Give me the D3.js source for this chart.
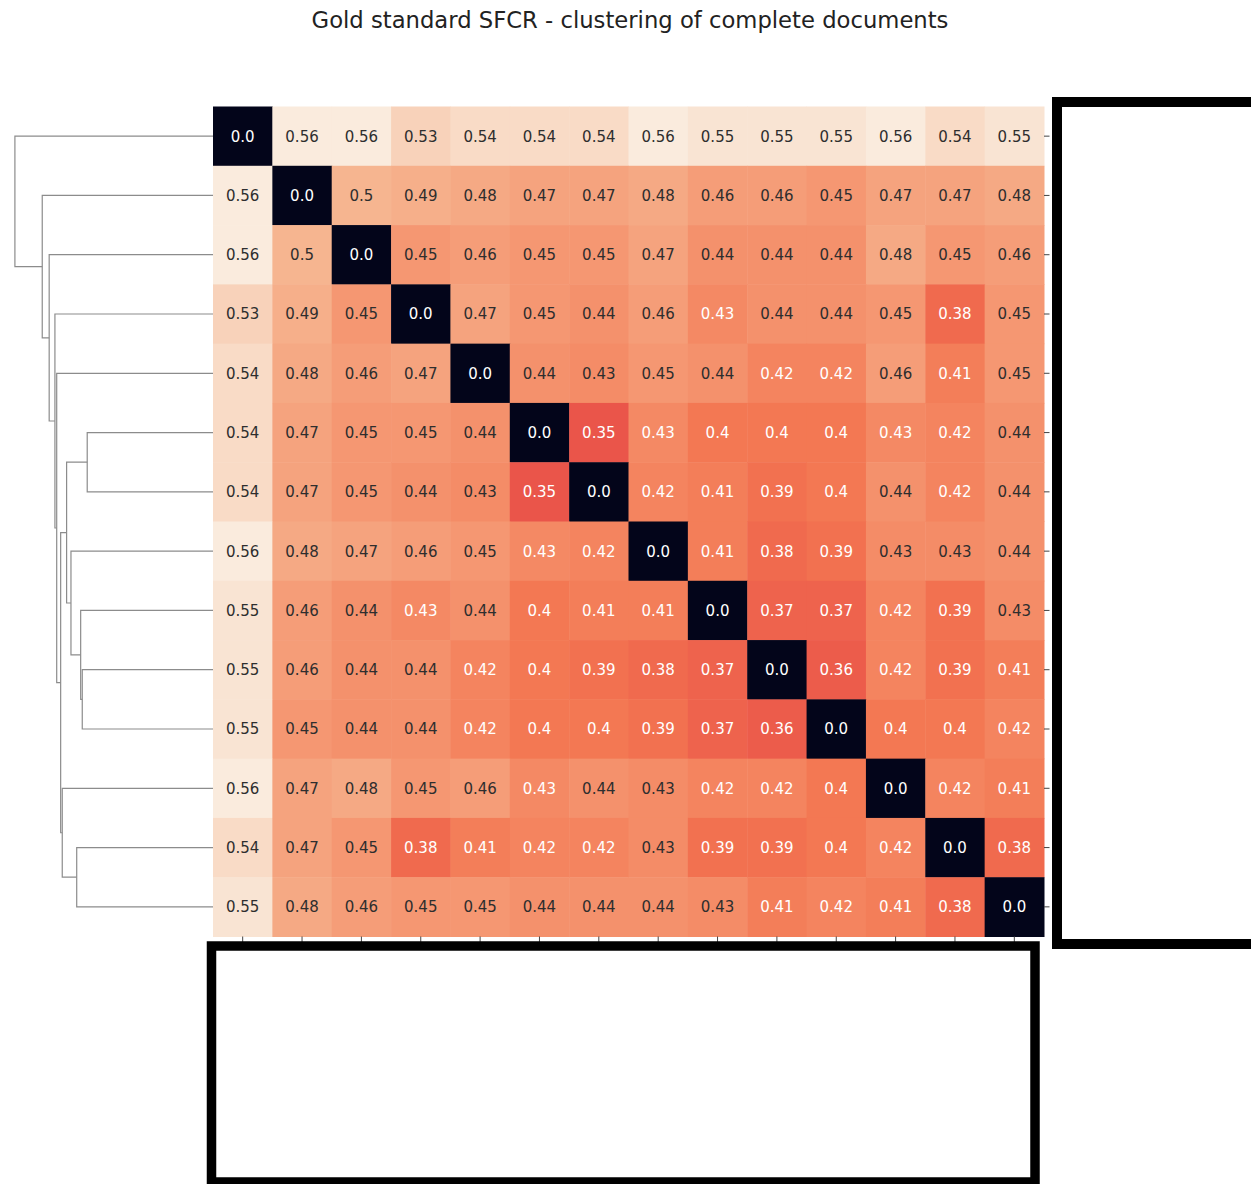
<!DOCTYPE html>
<html lang="en">
<head>
<meta charset="UTF-8">
<title>Gold standard SFCR - clustering of complete documents</title>
<style>
    body {
        margin: 0;
        background: #fff;
        font-family: "DejaVu Sans", sans-serif;
    }
    svg { display: block; }
</style>
</head>
<body>

<script src="https://cdn.jsdelivr.net/npm/d3@7/dist/d3.min.js"></script>

<script>

var title = "Gold standard SFCR - clustering of complete documents";

// documents in clustered order (their names are blacked out in the source)
var docs = d3.range(14);

var distances = [
    [0.0, 0.56, 0.56, 0.53, 0.54, 0.54, 0.54, 0.56, 0.55, 0.55, 0.55, 0.56, 0.54, 0.55],
    [0.56, 0.0, 0.5, 0.49, 0.48, 0.47, 0.47, 0.48, 0.46, 0.46, 0.45, 0.47, 0.47, 0.48],
    [0.56, 0.5, 0.0, 0.45, 0.46, 0.45, 0.45, 0.47, 0.44, 0.44, 0.44, 0.48, 0.45, 0.46],
    [0.53, 0.49, 0.45, 0.0, 0.47, 0.45, 0.44, 0.46, 0.428, 0.44, 0.44, 0.45, 0.38, 0.45],
    [0.54, 0.48, 0.46, 0.47, 0.0, 0.44, 0.433, 0.45, 0.44, 0.42, 0.42, 0.46, 0.41, 0.45],
    [0.54, 0.47, 0.45, 0.45, 0.44, 0.0, 0.35, 0.428, 0.4, 0.4, 0.4, 0.428, 0.42, 0.44],
    [0.54, 0.47, 0.45, 0.44, 0.433, 0.35, 0.0, 0.42, 0.41, 0.39, 0.4, 0.44, 0.42, 0.44],
    [0.56, 0.48, 0.47, 0.46, 0.45, 0.428, 0.42, 0.0, 0.41, 0.38, 0.39, 0.433, 0.433, 0.44],
    [0.55, 0.46, 0.44, 0.428, 0.44, 0.4, 0.41, 0.41, 0.0, 0.37, 0.37, 0.42, 0.39, 0.433],
    [0.55, 0.46, 0.44, 0.44, 0.42, 0.4, 0.39, 0.38, 0.37, 0.0, 0.36, 0.42, 0.39, 0.41],
    [0.55, 0.45, 0.44, 0.44, 0.42, 0.4, 0.4, 0.39, 0.37, 0.36, 0.0, 0.4, 0.4, 0.42],
    [0.56, 0.47, 0.48, 0.45, 0.46, 0.428, 0.44, 0.433, 0.42, 0.42, 0.4, 0.0, 0.42, 0.41],
    [0.54, 0.47, 0.45, 0.38, 0.41, 0.42, 0.42, 0.433, 0.39, 0.39, 0.4, 0.42, 0.0, 0.38],
    [0.55, 0.48, 0.46, 0.45, 0.45, 0.44, 0.44, 0.44, 0.433, 0.41, 0.42, 0.41, 0.38, 0.0]
];

// linkage rows like scipy: [child a, child b, height]; new clusters numbered from 14
var linkage = [
    [5, 6, 0.635],
    [9, 10, 0.660],
    [8, 15, 0.668],
    [12, 13, 0.688],
    [7, 16, 0.717],
    [14, 18, 0.739],
    [11, 17, 0.761],
    [19, 20, 0.769],
    [4, 21, 0.789],
    [3, 22, 0.798],
    [2, 23, 0.827],
    [1, 24, 0.862],
    [0, 25, 1.000]
];

// seaborn "rocket"
var rocketStops = [0, 0.083, 0.25, 0.417, 0.583, 0.75, 0.917, 1];
var rocketColors = ["#03051a", "#35193e", "#701f57", "#ad1759", "#e13342", "#f37651", "#f6b48f", "#faebdd"];

var W = 1251, H = 1184;
var hm = { left: 213, top: 106.5, right: 1044, bottom: 936.5 };

var svg = d3.select("body").append("svg")
    .attr("width", W)
    .attr("height", H);

var x = d3.scaleBand().domain(docs).range([hm.left, hm.right]);
var y = d3.scaleBand().domain(docs).range([hm.top, hm.bottom]);

var ext = d3.extent(d3.merge(distances));
var rocket = d3.scaleLinear()
    .domain(rocketStops)
    .range(rocketColors)
    .interpolate(d3.interpolateRgb);
// the screenshot reads a little paler than a plain linear ramp
var norm = d3.scaleLinear().domain(ext).range([0, 1]).clamp(true);
function color(v) {
    return rocket(1 - Math.pow(1 - norm(v), 1.12));
}

var cells = [];
distances.forEach(function (row, i) {
    row.forEach(function (v, j) { cells.push({ r: i, c: j, v: v }); });
});

function label(v) {
    var s = String(Math.round(v * 100) / 100);
    return s.indexOf(".") < 0 ? s + ".0" : s;
}

// heatmap
var heat = svg.append("g");

heat.selectAll("rect")
    .data(cells)
  .enter().append("rect")
    .attr("x", function (d) { return x(d.c); })
    .attr("y", function (d) { return y(d.r); })
    .attr("width", x.bandwidth() + 0.5)
    .attr("height", y.bandwidth() + 0.5)
    .attr("fill", function (d) { return color(d.v); });

heat.selectAll("text")
    .data(cells)
  .enter().append("text")
    .attr("x", function (d) { return x(d.c) + x.bandwidth() / 2; })
    .attr("y", function (d) { return y(d.r) + y.bandwidth() / 2; })
    .attr("dy", "0.36em")
    .attr("text-anchor", "middle")
    .style("font-size", "15px")
    .style("fill", function (d) { return d.v < 0.43 ? "#ffffff" : "#2e2e2e"; })
    .text(function (d) { return label(d.v); });

// ticks (labels hidden)
var yAxis = d3.axisRight(y).tickSize(5.5).tickFormat("");
var xAxis = d3.axisBottom(x).tickSize(5.5).tickFormat("");

svg.append("g")
    .attr("transform", "translate(" + hm.right + ",0)")
    .call(yAxis)
    .call(function (g) { g.select(".domain").remove(); })
    .selectAll("line").attr("stroke", "#444");

svg.append("g")
    .attr("transform", "translate(0," + hm.bottom + ")")
    .call(xAxis)
    .call(function (g) { g.select(".domain").remove(); })
    .selectAll("line").attr("stroke", "#444");

// row dendrogram
var n = docs.length;
var dx = d3.scaleLinear().domain([0, 1.05]).range([hm.left, hm.left - 208]);

var nodes = docs.map(function (d) {
    return { y: y(d) + y.bandwidth() / 2, h: 0 };
});
linkage.forEach(function (l) {
    var a = nodes[l[0]], b = nodes[l[1]];
    nodes.push({ y: (a.y + b.y) / 2, h: l[2], a: a, b: b });
});

svg.append("g")
    .selectAll("path")
    .data(nodes.slice(n))
  .enter().append("path")
    .attr("fill", "none")
    .attr("stroke", "#8c8c8c")
    .attr("stroke-width", 1.2)
    .attr("d", function (d) {
        return "M" + dx(d.a.h) + "," + d.a.y +
               "H" + dx(d.h) +
               "V" + d.b.y +
               "H" + dx(d.b.h);
    });

// title
svg.append("text")
    .attr("x", 630)
    .attr("y", 28)
    .attr("text-anchor", "middle")
    .style("font-size", "22.7px")
    .style("fill", "#222")
    .text(title);

// redaction boxes over the tick labels
svg.append("rect")
    .attr("x", 1057).attr("y", 102)
    .attr("width", 260).attr("height", 842)
    .attr("fill", "#fff")
    .attr("stroke", "#000")
    .attr("stroke-width", 10);

svg.append("rect")
    .attr("x", 211.5).attr("y", 946)
    .attr("width", 823.5).attr("height", 236)
    .attr("fill", "#fff")
    .attr("stroke", "#000")
    .attr("stroke-width", 9.5);

</script>

</body>
</html>
